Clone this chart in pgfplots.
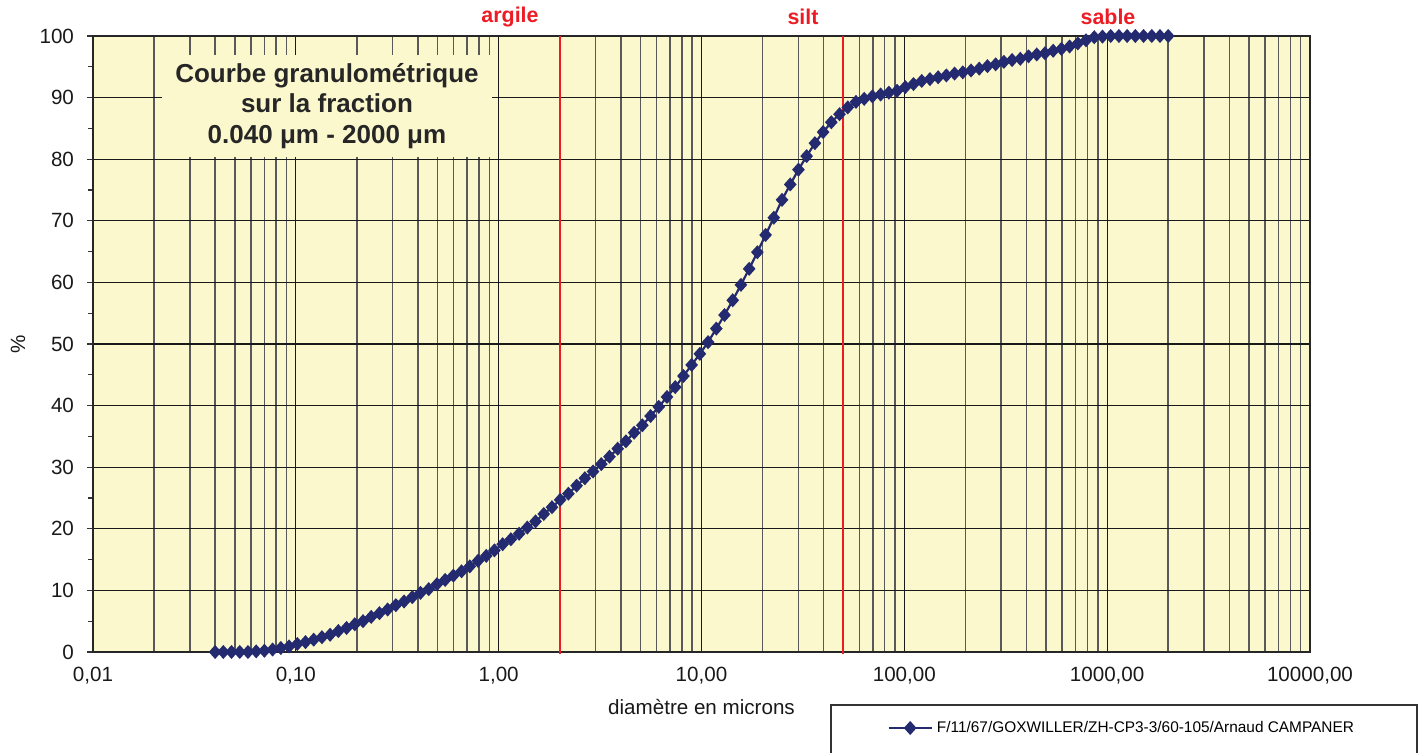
\documentclass[border=0pt]{standalone}
\usepackage{pgfplots}
\pgfplotsset{compat=1.18}
\usepackage{pgfplotstable}
\usepackage{fontspec}
\setmainfont{Liberation Sans}
\definecolor{bgy}{RGB}{252,248,206}
\definecolor{navy}{RGB}{36,42,112}
\definecolor{redl}{RGB}{237,28,36}

\pgfplotstableread{
x y
0.04 0
0.04391 0
0.04820 0
0.05292 0
0.05809 0
0.06377 0.1
0.07000 0.2
0.07684 0.4
0.08436 0.65
0.09260 0.9
0.1017 1.3
0.1116 1.6
0.1225 2.0
0.1345 2.4
0.1476 2.8
0.1621 3.4
0.1779 3.9
0.1953 4.5
0.2144 5.0
0.2353 5.7
0.2584 6.3
0.2836 6.9
0.3113 7.6
0.3418 8.2
0.3752 8.9
0.4119 9.6
0.4521 10.2
0.4963 11.0
0.5448 11.7
0.5981 12.4
0.6566 13.1
0.7208 13.9
0.7912 14.8
0.8686 15.6
0.9535 16.5
1.0467 17.5
1.1490 18.3
1.2614 19.2
1.3847 20.2
1.5200 21.2
1.6686 22.4
1.8318 23.5
2.0108 24.7
2.2074 25.7
2.4232 27.0
2.6601 28.2
2.9202 29.3
3.2056 30.5
3.5190 31.7
3.8631 33.0
4.2407 34.2
4.6553 35.6
5.1104 36.8
5.6100 38.3
6.1584 39.8
6.7604 41.4
7.4213 43.0
8.1468 44.8
8.9433 46.6
9.8176 48.4
10.777 50.3
11.831 52.5
12.988 54.7
14.257 57.1
15.651 59.6
17.181 62.2
18.861 64.9
20.704 67.7
22.729 70.5
24.950 73.4
27.390 75.9
30.067 78.3
33.007 80.5
36.233 82.6
39.775 84.4
43.664 86.0
47.933 87.3
52.618 88.4
57.762 89.3
63.409 89.8
69.62 90.2
76.426 90.5
83.897 90.8
92.099 91.1
101.10 91.7
110.99 92.2
121.84 92.7
133.75 93.0
146.82 93.3
161.18 93.6
176.93 93.9
194.23 94.1
213.22 94.4
234.06 94.7
256.94 95.1
282.06 95.4
309.64 95.8
339.91 96.1
373.14 96.3
409.61 96.7
449.66 97.0
493.62 97.2
541.87 97.6
594.85 97.9
653.00 98.3
716.83 98.8
786.91 99.3
863.84 99.8
948.29 99.9
1041.0 100
1142.8 100
1254.5 100
1377.1 100
1511.7 100
1659.5 100
1821.8 100
2000 100
}\granulo

\begin{document}
\begin{tikzpicture}
\path[use as bounding box] (-46.5pt,-50.5pt) rectangle (666.5pt,326pt);
\begin{axis}[
  at={(0,0)}, anchor=south west,
  scale only axis, width=608.5pt, height=308pt,
  xmode=log, xmin=0.01, xmax=10000, ymin=0, ymax=100,
  clip=false,
  axis background/.style={fill=bgy},
  axis line style={black!85, line width=0.7pt},
  xtick={0.01,0.1,1,10,100,1000,10000},
  xticklabels={{0,01},{0,10},{1,00},{10,00},{100,00},{1000,00},{10000,00}},
  minor xtick={0.02,0.03,0.04,0.05,0.06,0.07,0.08,0.09,0.2,0.3,0.4,0.5,0.6,0.7,0.8,0.9,2,3,4,5,6,7,8,9,20,30,40,50,60,70,80,90,200,300,400,500,600,700,800,900,2000,3000,4000,5000,6000,7000,8000,9000},
  ytick={0,10,20,30,40,50,60,70,80,90,100},
  minor ytick={5,15,25,35,45,55,65,75,85,95},
  xmajorgrids=true, xminorgrids=true, ymajorgrids=true,
  major grid style={color=black!90, line width=0.6pt},
  minor grid style={color=black!65, line width=0.75pt},
  xtick style={draw=none},
  ytick pos=left,
  ytick align=outside,
  major tick length=3pt, minor tick length=2.5pt,
  tick style={black!80, line width=0.6pt},
  /pgf/number format/assume math mode=true,
  tick label style={font=\fontsize{10.3}{12}\selectfont, text=black!90},
  yticklabel style={xshift=-3pt},
  xticklabel style={yshift=-4pt},
  xlabel={diamètre en microns},
  ylabel={\%},
  every axis x label/.style={at={(axis description cs:0.5,-0.0893)}, anchor=center, font=\fontsize{10.3}{12}\selectfont, text=black!90},
  every axis y label/.style={at={(axis description cs:-0.0616,0.5)}, rotate=90, anchor=center, font=\fontsize{10.3}{12}\selectfont, text=black!90},
  legend style={at={(0.6525,-0.1234)}, anchor=west, draw=none, fill=none, font=\fontsize{7.7}{9}\selectfont, inner sep=0pt},
  legend image code/.code={\draw[#1, mark repeat=2, mark phase=2] plot coordinates {(0cm,0cm) (0.38cm,0cm) (0.76cm,0cm)};},
]
\addplot[redl, line width=1pt, forget plot] coordinates {(2,-0.4) (2,100)};
\addplot[redl, line width=1pt, forget plot] coordinates {(50,-0.4) (50,100)};
\addplot[navy, line width=1.1pt, mark=diamond*, mark size=2.7pt, mark options={solid, fill=navy, xscale=1.2}] table[x=x, y=y] {\granulo};
\addlegendentry{F/11/67/GOXWILLER/ZH-CP3-3/60-105/Arnaud CAMPANER}
\end{axis}
\node[fill=bgy, inner sep=0pt, minimum width=164.5pt, minimum height=51pt, align=center, font=\fontsize{13}{15.3}\selectfont\bfseries, text=black!85] at (117pt,273pt) {Courbe granulométrique\\sur la fraction\\0.040 μm - 2000 μm};
\node[text=redl, font=\fontsize{10.7}{12}\selectfont\bfseries] at (208.5pt,317.5pt) {argile};
\node[text=redl, font=\fontsize{10.7}{12}\selectfont\bfseries] at (355pt,317.5pt) {silt};
\node[text=redl, font=\fontsize{10.7}{12}\selectfont\bfseries] at (507.5pt,317.5pt) {sable};
\draw[black!80, line width=0.6pt] (369pt,-26.5pt) rectangle (662pt,-60pt);
\end{tikzpicture}
\end{document}
